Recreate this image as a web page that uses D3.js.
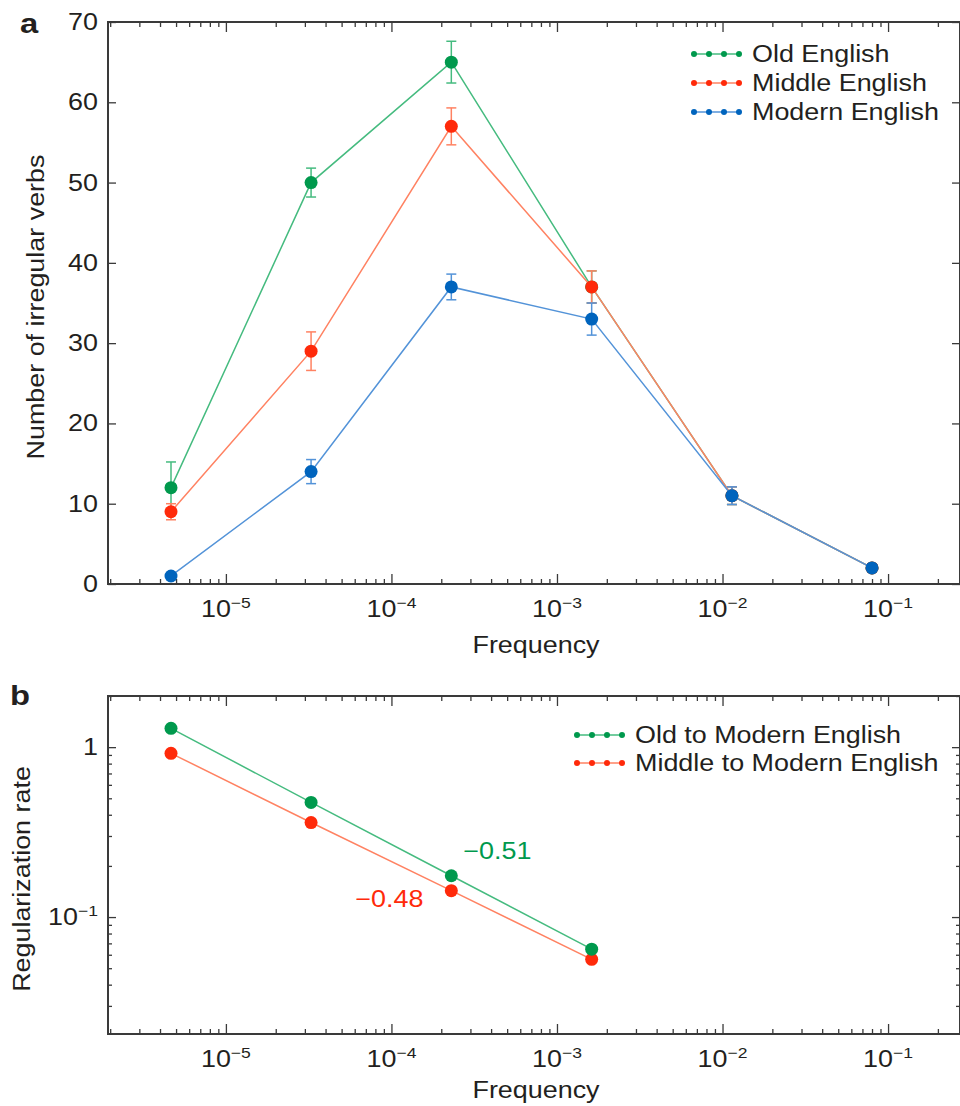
<!DOCTYPE html>
<html>
<head>
<meta charset="utf-8">
<script src="https://cdn.jsdelivr.net/npm/d3@7"></script>
<style>
  body { margin: 0; background: #fff; }
  svg { display: block; }
  text { font-family: "Liberation Sans", Arial, Helvetica, sans-serif; fill: #231f20; }
</style>
</head>
<body>
<svg id="chart" width="960" height="1106"></svg>
<script>
// ---- data ----
const frequencyBins = [4.66e-6, 3.27e-5, 2.30e-4, 1.62e-3, 1.14e-2, 8.0e-2];

const seriesNames = ["Old English", "Middle English", "Modern English"];
const oldEnglish     = [12, 50, 65, 37, 11, 2];
const middleEnglish  = [9, 29, 57, 37, 11, 2];
const modernEnglish  = [1, 14, 37, 33, 11, 2];
const oldEnglishErr    = [3.2, 1.8, 2.6, 2.0, 1.1, 0.4];
const middleEnglishErr = [1.0, 2.4, 2.3, 2.0, 1.1, 0.4];
const modernEnglishErr = [0.4, 1.5, 1.6, 2.0, 1.1, 0.4];

const rateNames = ["Old to Modern English", "Middle to Modern English"];
const oldToModernRate    = [1.29, 0.473, 0.175, 0.0647];
const middleToModernRate = [0.92, 0.36, 0.143, 0.0564];
const slopeLabels = ["\u22120.51", "\u22120.48"];

const yTicksA = [0, 10, 20, 30, 40, 50, 60, 70];
const xDecades = [1e-5, 1e-4, 1e-3, 1e-2, 1e-1];
const xDecadeExponents = ["\u22125", "\u22124", "\u22123", "\u22122", "\u22121"];
const yDecadesB = [1, 0.1];
const yDecadeExponentsB = [null, "\u22121"];

// ---- styling ----
const COLORS = {
  green: { mark: "#00994d", line: "#45bb7f" },
  red:   { mark: "#ff2a0a", line: "#ff8262" },
  blue:  { mark: "#0064bd", line: "#5393d8" }
};
const FONT = 23;
const TEXT_SX = 1.17;   // horizontal stretch of the lettering
const FRAME = "#3a3a3a";

const svg = d3.select("#chart");

// ---- layout ----
const L = 108, R = 960;
const panelA = { top: 22, bottom: 584 };
const panelB = { top: 696, bottom: 1034 };

const x = d3.scaleLog().domain([1.94e-6, 0.272]).range([L, R]);
const yA = d3.scaleLinear().domain([0, 70]).range([panelA.bottom, panelA.top]);
const yB = d3.scaleLog().domain([0.0205, 2.0]).range([panelB.bottom, panelB.top]);

// minor log ticks (2..9 per decade) inside a domain
function minorTicks(scale) {
  const [a, b] = scale.domain().slice().sort((p, q) => p - q);
  const out = [];
  for (let e = Math.floor(Math.log10(a)); e <= Math.ceil(Math.log10(b)); e++) {
    for (let m = 2; m <= 9; m++) {
      const v = m * Math.pow(10, e);
      if (v >= a && v <= b) out.push(v);
    }
  }
  return out;
}

// text group with the horizontal stretch applied
function label(parent, tx, ty, opts = {}) {
  const rot = opts.rotate ? ` rotate(${opts.rotate})` : "";
  const g = parent.append("g").attr("transform", `translate(${tx},${ty})${rot} scale(${TEXT_SX},1)`);
  const t = g.append("text")
    .attr("text-anchor", opts.anchor || "start")
    .attr("font-size", opts.size || FONT)
    .attr("font-weight", opts.weight || "normal");
  if (opts.fill) t.style("fill", opts.fill);
  return t;
}
function powerLabel(t, exp) {
  t.append("tspan").text("10");
  t.append("tspan").attr("dy", -9).attr("font-size", 15).text(exp);
}

function drawFrame(g, top, bottom, yScale, yMajor, yMinor, titleOffset) {
  g.append("rect")
    .attr("x", L).attr("y", top).attr("width", R - L).attr("height", bottom - top)
    .attr("fill", "none").attr("stroke", FRAME).attr("stroke-width", 2);

  const style = sel => {
    sel.select(".domain").remove();
    sel.selectAll("line").attr("stroke", FRAME).attr("stroke-width", 1.3);
  };
  // x ticks, inward on bottom and top
  g.append("g").attr("transform", `translate(0,${bottom})`)
    .call(d3.axisBottom(x).tickValues(xDecades).tickSize(-10).tickFormat("")).call(style);
  g.append("g").attr("transform", `translate(0,${bottom})`)
    .call(d3.axisBottom(x).tickValues(minorTicks(x)).tickSize(-5).tickFormat("")).call(style);
  g.append("g").attr("transform", `translate(0,${top})`)
    .call(d3.axisTop(x).tickValues(xDecades).tickSize(-10).tickFormat("")).call(style);
  g.append("g").attr("transform", `translate(0,${top})`)
    .call(d3.axisTop(x).tickValues(minorTicks(x)).tickSize(-5).tickFormat("")).call(style);
  // y ticks, inward on left and right
  g.append("g").attr("transform", `translate(${L},0)`)
    .call(d3.axisLeft(yScale).tickValues(yMajor).tickSize(-8).tickFormat("")).call(style);
  g.append("g").attr("transform", `translate(${R},0)`)
    .call(d3.axisRight(yScale).tickValues(yMajor).tickSize(-8).tickFormat("")).call(style);
  if (yMinor) {
    g.append("g").attr("transform", `translate(${L},0)`)
      .call(d3.axisLeft(yScale).tickValues(yMinor).tickSize(-4).tickFormat("")).call(style);
    g.append("g").attr("transform", `translate(${R},0)`)
      .call(d3.axisRight(yScale).tickValues(yMinor).tickSize(-4).tickFormat("")).call(style);
  }
  // x tick labels
  xDecades.forEach((v, i) => powerLabel(label(g, x(v), bottom + 33, { anchor: "middle" }), xDecadeExponents[i]));
  label(g, (L + R) / 2 + 2, bottom + titleOffset, { anchor: "middle" }).text("Frequency");
}

function drawLegend(g, items, x0, y0, step) {
  items.forEach((it, i) => {
    const cy = y0 + i * step;
    const row = g.append("g");
    row.append("line").attr("x1", x0).attr("x2", x0 + 48).attr("y1", cy).attr("y2", cy)
      .attr("stroke", it.color.line).attr("stroke-width", 1.5);
    row.selectAll("circle").data(d3.range(4)).join("circle")
      .attr("cx", d => x0 + 2 + d * 15).attr("cy", cy).attr("r", 3).attr("fill", it.color.mark);
    label(row, x0 + 60, cy + 8).text(it.name);
  });
}

// ================= panel a =================
const ga = svg.append("g");
drawFrame(ga, panelA.top, panelA.bottom, yA, yTicksA, null, 69);
yTicksA.forEach(v => label(ga, 98, yA(v) + 8, { anchor: "end" }).text(v));
label(ga, 44, (panelA.top + panelA.bottom) / 2 + 4, { anchor: "middle", rotate: -90 }).text("Number of irregular verbs");
label(ga, 20, 33, { weight: "bold", size: 28 }).text("a");

const seriesA = [
  { name: seriesNames[0], values: oldEnglish, err: oldEnglishErr, color: COLORS.green },
  { name: seriesNames[1], values: middleEnglish, err: middleEnglishErr, color: COLORS.red },
  { name: seriesNames[2], values: modernEnglish, err: modernEnglishErr, color: COLORS.blue }
];
const lineA = d3.line().x(d => x(d.f)).y(d => yA(d.v));

seriesA.forEach(s => {
  const pts = frequencyBins.map((f, i) => ({ f, v: s.values[i], e: s.err[i] }));
  const g = ga.append("g");
  g.append("path").datum(pts).attr("d", lineA).attr("fill", "none")
    .attr("stroke", s.color.line).attr("stroke-width", 1.5);
  const eb = g.append("g").attr("stroke", s.color.line).attr("stroke-width", 1.5);
  pts.forEach(p => {
    const cx = x(p.f), y1 = yA(p.v + p.e), y2 = yA(p.v - p.e);
    eb.append("line").attr("x1", cx).attr("x2", cx).attr("y1", y1).attr("y2", y2);
    eb.append("line").attr("x1", cx - 5).attr("x2", cx + 5).attr("y1", y1).attr("y2", y1);
    eb.append("line").attr("x1", cx - 5).attr("x2", cx + 5).attr("y1", y2).attr("y2", y2);
  });
  g.selectAll("circle").data(pts).join("circle")
    .attr("cx", d => x(d.f)).attr("cy", d => yA(d.v)).attr("r", 6.5).attr("fill", s.color.mark);
});
drawLegend(ga, seriesA, 692, 54, 29);

// ================= panel b =================
const gb = svg.append("g");
drawFrame(gb, panelB.top, panelB.bottom, yB, yDecadesB, minorTicks(yB), 64);
yDecadesB.forEach((v, i) => {
  const t = label(gb, 98, yB(v) + 8, { anchor: "end" });
  if (yDecadeExponentsB[i]) powerLabel(t, yDecadeExponentsB[i]); else t.text(v);
});
label(gb, 30, (panelB.top + panelB.bottom) / 2 + 14, { anchor: "middle", rotate: -90 }).text("Regularization rate");
label(gb, 10, 705, { weight: "bold", size: 28 }).text("b");

const seriesB = [
  { name: rateNames[0], values: oldToModernRate, color: COLORS.green, slope: slopeLabels[0], dx: 46, dy: -17 },
  { name: rateNames[1], values: middleToModernRate, color: COLORS.red, slope: slopeLabels[1], dx: -62, dy: 16 }
];
const lineB = d3.line().x(d => x(d.f)).y(d => yB(d.v));

// red drawn first so the green markers sit on top
seriesB.slice().reverse().forEach(s => {
  const pts = s.values.map((v, i) => ({ f: frequencyBins[i], v }));
  const g = gb.append("g");
  g.append("path").datum(pts).attr("d", lineB).attr("fill", "none")
    .attr("stroke", s.color.line).attr("stroke-width", 1.5);
  g.selectAll("circle").data(pts).join("circle")
    .attr("cx", d => x(d.f)).attr("cy", d => yB(d.v)).attr("r", 6.5).attr("fill", s.color.mark);
  const anchor = pts[2];
  label(g, x(anchor.f) + s.dx, yB(anchor.v) + s.dy, { anchor: "middle", fill: s.color.mark }).text(s.slope);
});
drawLegend(gb, seriesB, 575, 735, 28);
</script>
</body>
</html>
